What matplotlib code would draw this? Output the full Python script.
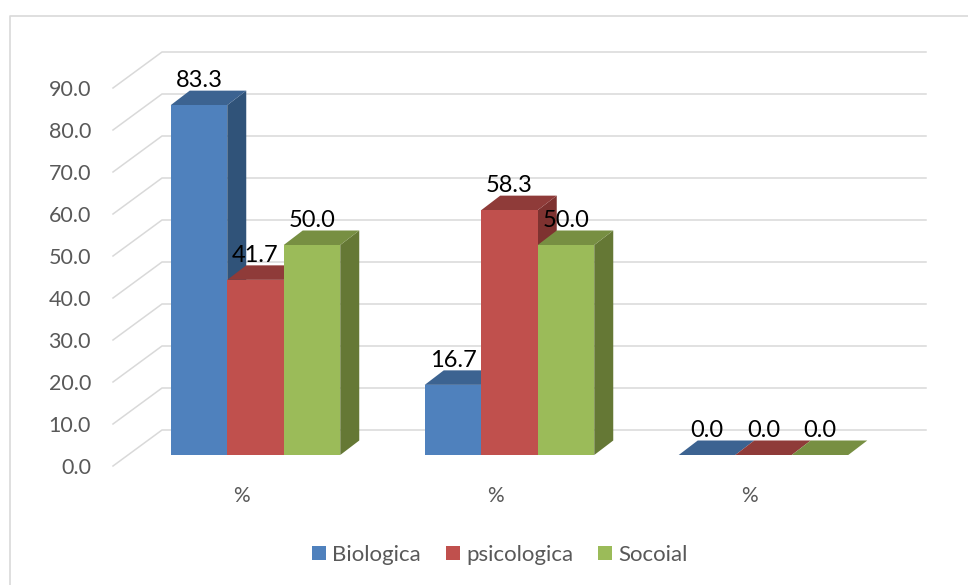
# 3d looking clustered bars, faked with flat polygons
from matplotlib import pyplot as plt
from matplotlib.patches import Patch

groups = ['%', '%', '%']
series_names = ['Biologica', 'psicologica', 'Socoial']
biologica = [83.3, 16.7, 0.0]
psicologica = [41.7, 58.3, 0.0]
socoial = [50.0, 50.0, 0.0]
grid_values = [0, 10, 20, 30, 40, 50, 60, 70, 80, 90]

front_colors = ['#4F81BD', '#C0504D', '#9BBB59']
top_colors = ['#3C6391', '#8F3B39', '#778F42']
side_colors = ['#305379', '#7E3230', '#657835']

# one x unit is 254 px, one y unit is 4.2 px
x_px = 254.0
y_px = 4.2
bar_w = 56.5 / x_px
bar_dx = 19 / x_px
bar_dy = 14.5 / y_px
wall_left = -142.5 / x_px
wall_dx = 49 / x_px
wall_dy = 36 / y_px
floor_y = -11 / y_px
wall_right = 670.5 / x_px

plt.rcParams['font.family'] = ['Lato', 'DejaVu Sans']

fig = plt.figure(figsize=(9.68, 5.85), dpi=100)
ax = fig.add_axes([0, 0, 1, 1])
ax.set_xlim(-255.5 / x_px, (968 - 255.5) / x_px)
ax.set_ylim((455 - 585) / y_px, 455 / y_px)
ax.axis('off')

# chart frame, only left and top are visible
ax.plot([9.5 / 968, 9.5 / 968, 1], [0, 1 - 15.5 / 585, 1 - 15.5 / 585],
        transform=ax.transAxes, color='#D9D9D9', lw=1.2, clip_on=False)

# gridlines, running back from the floor then along the wall
for v in grid_values:
    y = floor_y + v
    ax.plot([wall_left, wall_left + wall_dx, wall_right],
            [y, y + wall_dy, y + wall_dy], color='#D9D9D9', lw=1.1,
            solid_joinstyle='miter', zorder=1)
    ax.text(wall_left - 22 / x_px, y - 1.5 / y_px, '%.1f' % v, ha='right', va='center',
            fontsize=15.5, color='#595959', zorder=5)

all_series = [biologica, psicologica, socoial]
z = 2
for g in range(len(groups)):
    left = g - 1.5 * bar_w
    for s in range(len(all_series)):
        val = all_series[s][g]
        x0 = left + s * bar_w
        x1 = x0 + bar_w
        # side face
        ax.fill([x1, x1 + bar_dx, x1 + bar_dx, x1],
                [0, bar_dy, val + bar_dy, val],
                color=side_colors[s], lw=0, zorder=z)
        # top face
        ax.fill([x0, x0 + bar_dx, x1 + bar_dx, x1],
                [val, val + bar_dy, val + bar_dy, val],
                color=top_colors[s], lw=0, zorder=z)
        # front face
        ax.bar(x0, val, width=bar_w, align='edge', color=front_colors[s],
               lw=0, zorder=z)
        z += 1
        ax.text(x0 + bar_w / 2, val + 18 / y_px, '%.1f' % val, ha='center',
                va='baseline', fontsize=17, color='black', zorder=20)
    ax.text(g - 14 / x_px, -41.5 / y_px, groups[g], ha='center', va='center',
            fontsize=15, color='#595959', zorder=5)

handles = [Patch(color=front_colors[i], lw=0) for i in range(3)]
leg = ax.legend(handles, series_names, loc='center', ncol=3, frameon=False,
                bbox_to_anchor=(500 / 968, 1 - 555 / 585), prop={'size': 16},
                handlelength=0.63, handleheight=0.63, handletextpad=0.27,
                columnspacing=1.13, borderpad=0, borderaxespad=0,
                labelcolor='#595959')

fig.savefig('out.png', dpi=100)
